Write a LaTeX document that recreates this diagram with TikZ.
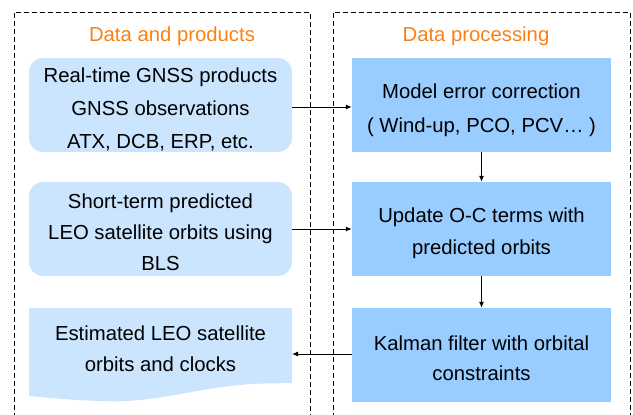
\documentclass[tikz,border=0pt]{standalone}
\usepackage{fontspec}
\setmainfont{Liberation Sans}
\usetikzlibrary{arrows.meta}
\definecolor{lightbox}{RGB}{204,229,255}
\definecolor{darkbox}{RGB}{153,204,255}
\definecolor{titleorange}{RGB}{250,128,20}
\tikzset{
  frame/.style={draw=black, line width=0.9pt, dash pattern=on 5pt off 3pt},
  databox/.style={fill=lightbox, draw=none, rounded corners=14pt, minimum width=263pt, minimum height=94pt, inner sep=0pt},
  procbox/.style={fill=darkbox, draw=none, minimum width=259pt, minimum height=94pt, inner sep=0pt},
  txt/.style={align=center, inner sep=0pt},
  heading/.style={text=titleorange, inner sep=0pt},
  conn/.style={line width=1pt, -{Latex[length=6pt,width=5pt]}},
  every node/.style={font=\fontsize{20.3}{32.5}\selectfont}
}
\begin{document}
\begin{tikzpicture}[x=1pt,y=-1pt]
\useasboundingbox (0,0) rectangle (633,415);
% frames
\draw[frame] (14,418) -- (14,12) -- (310,12) -- (310,418);
\draw[frame] (333,418) -- (333,12) -- (630,12) -- (630,418);
% headings
\node[heading] (h1) at (172,36) {Data and products};
\node[heading] (h2) at (476,36) {Data processing};
% left boxes
\node[databox] (b1) at (160.5,105) {};
\node[txt, font=\fontsize{20.3}{33}\selectfont] (t1) at (160.5,109) {Real-time GNSS products\\GNSS observations\\ATX, DCB, ERP, etc.};
\node[databox] (b2) at (160.5,229) {};
\node[txt, font=\fontsize{20.3}{31}\selectfont] (t2) at (160.5,232) {Short-term predicted\\LEO satellite orbits using\\BLS};
\fill[lightbox] (29,308) -- (292,308) -- (292,383) -- (265,383.5)
  .. controls (200,385) and (160,404) .. (100,401)
  .. controls (70,400) and (50,398) .. (29,396) -- cycle;
\node[txt, font=\fontsize{20.3}{31}\selectfont] (b3) at (160.5,349) {Estimated LEO satellite\\orbits and clocks};
\coordinate (b3e) at (292,354);
% right boxes
\node[procbox] (b4) at (481.5,105) {};
\node[txt, font=\fontsize{20.3}{34}\selectfont] (t4) at (481.5,110) {Model error correction\\( Wind-up, PCO, PCV\dots\ )};
\node[procbox] (b5) at (481.5,229) {};
\node[txt, font=\fontsize{20.3}{32}\selectfont] (t5) at (481.5,233) {Update O-C terms with\\predicted orbits};
\node[procbox] (b6) at (481.5,355) {};
\node[txt, font=\fontsize{20.3}{30}\selectfont] (t6) at (481.5,358) {Kalman filter with orbital\\constraints};
% connectors
\draw[conn] (b1.east |- 0,107) -- (b4.west |- 0,107);
\draw[conn] (b2.east) -- (b5.west);
\draw[conn] (b6.west |- b3e) -- (b3e);
\draw[conn] (b4.south) -- (b5.north);
\draw[conn] (b5.south) -- (b6.north);
\end{tikzpicture}
\end{document}
